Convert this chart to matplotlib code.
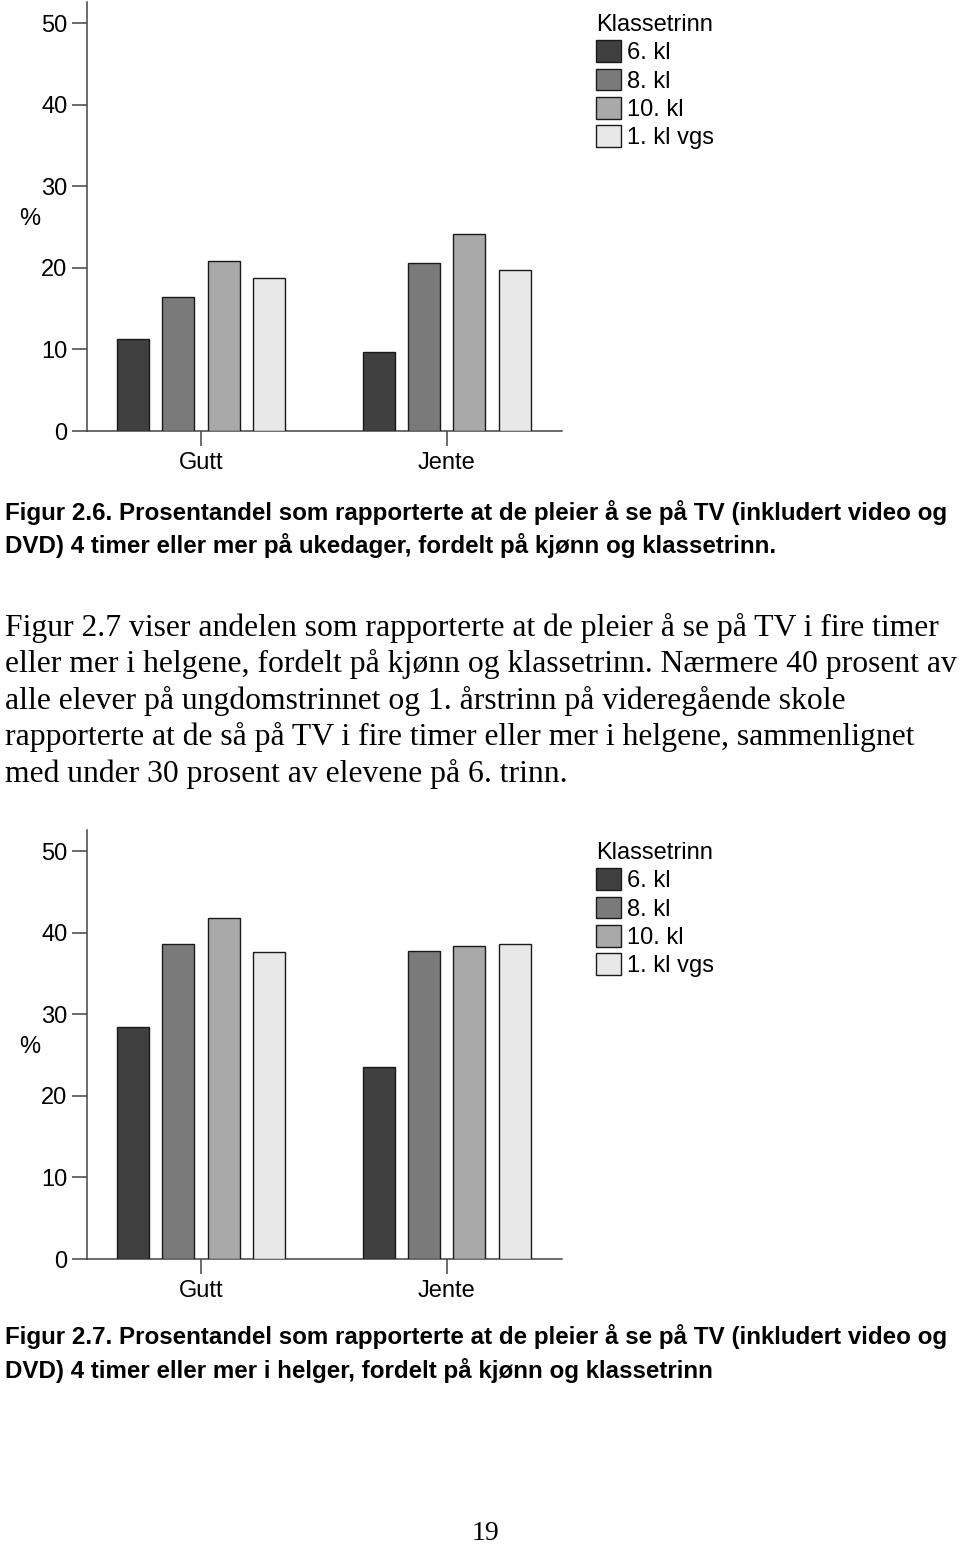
import matplotlib.pyplot as plt
from matplotlib.patches import Patch

# Data (prosent)
groups = ['Gutt', 'Jente']
trinn = ['6. kl', '8. kl', '10. kl', '1. kl vgs']
colors = ['#404040', '#7a7a7a', '#a9a9a9', '#e8e8e8']

# Figur 2.6: ukedager, per klassetrinn [Gutt, Jente]
uke_6kl = [11.3, 9.7]
uke_8kl = [16.4, 20.6]
uke_10kl = [20.8, 24.1]
uke_vgs = [18.7, 19.8]

# Figur 2.7: helg, per klassetrinn [Gutt, Jente]
helg_6kl = [28.5, 23.6]
helg_8kl = [38.6, 37.8]
helg_10kl = [41.8, 38.4]
helg_vgs = [37.7, 38.6]

W, H = 960, 1546
sans = ['Liberation Sans', 'DejaVu Sans']
serif = ['Liberation Serif', 'DejaVu Serif']
plt.rcParams['font.family'] = sans

fig = plt.figure(figsize=(W / 100, H / 100), dpi=100)


def px(x, y):
    return x / W, 1 - y / H


def draw_chart(top_px, series):
    left, right, bottom = 86.7, 561.7, top_px + 429
    ax = fig.add_axes([left / W, 1 - bottom / H, (right - left) / W, 429 / H])
    pitch, width = 0.1844, 0.130
    for i, vals in enumerate(series):
        xs = [g + (i - 1.5) * pitch for g in range(len(groups))]
        ax.bar(xs, vals, width=width, color=colors[i], edgecolor='#1a1a1a',
               linewidth=1.0, label=trinn[i], zorder=3)
    ax.set_xlim(-0.465, 1.468)
    ax.set_ylim(0, 52.6)
    ax.set_yticks([0, 10, 20, 30, 40, 50])
    ax.set_xticks(range(len(groups)))
    ax.set_xticklabels(groups)
    for s in ['top', 'right']:
        ax.spines[s].set_visible(False)
    for s in ['left', 'bottom']:
        ax.spines[s].set_color('#444444')
        ax.spines[s].set_linewidth(1.1)
    ax.tick_params(axis='y', length=10.8, width=1.1, color='#444444',
                   labelsize=17, pad=3)
    ax.tick_params(axis='x', length=10.8, width=1.1, color='#444444',
                   labelsize=17, pad=4)
    fig.text(*px(30, top_px + 217), '%', fontsize=17, ha='center', va='center')

    handles = [Patch(facecolor=colors[i], edgecolor='#1a1a1a', linewidth=1.0,
                     label=trinn[i]) for i in range(4)]
    fig.legend(handles=handles, title='Klassetrinn', loc='upper left',
               bbox_to_anchor=px(596, top_px + 12), frameon=False,
               fontsize=17, title_fontsize=17, handlelength=1.05,
               handleheight=1.05, handletextpad=0.25, labelspacing=0.18,
               borderpad=0, borderaxespad=0, alignment='left')
    return ax


draw_chart(2, [uke_6kl, uke_8kl, uke_10kl, uke_vgs])
draw_chart(830, [helg_6kl, helg_8kl, helg_10kl, helg_vgs])

cap1 = ['Figur 2.6. Prosentandel som rapporterte at de pleier å se på TV (inkludert video og',
        'DVD) 4 timer eller mer på ukedager, fordelt på kjønn og klassetrinn.']
for k, line in enumerate(cap1):
    fig.text(*px(5, 520 + k * 33), line, family=sans, weight='bold',
             fontsize=17.4, va='baseline')

body = ['Figur 2.7 viser andelen som rapporterte at de pleier å se på TV i fire timer',
        'eller mer i helgene, fordelt på kjønn og klassetrinn. Nærmere 40 prosent av',
        'alle elever på ungdomstrinnet og 1. årstrinn på videregående skole',
        'rapporterte at de så på TV i fire timer eller mer i helgene, sammenlignet',
        'med under 30 prosent av elevene på 6. trinn.']
for k, line in enumerate(body):
    fig.text(*px(5, 636 + k * 36.4), line, family=serif, fontsize=22.8,
             va='baseline')

cap2 = ['Figur 2.7. Prosentandel som rapporterte at de pleier å se på TV (inkludert video og',
        'DVD) 4 timer eller mer i helger, fordelt på kjønn og klassetrinn']
for k, line in enumerate(cap2):
    fig.text(*px(5, 1344 + k * 34), line, family=sans, weight='bold',
             fontsize=17.4, va='baseline')

fig.text(*px(485, 1540), '19', family=serif, fontsize=20, ha='center',
         va='baseline')

fig.savefig('out.png', dpi=100)
